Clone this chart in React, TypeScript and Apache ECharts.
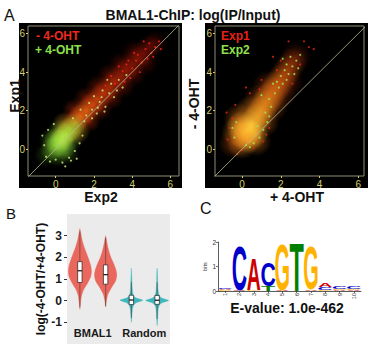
import { useEffect, useRef } from "react";
import * as echarts from "echarts";

const FONT = '"Liberation Sans", Arial, Helvetica, sans-serif';

// ---------- Panel A: BMAL1-ChIP log(IP/Input) ----------
const TITLE = "BMAL1-ChIP: log(IP/Input)";
const TREATMENTS = ["- 4-OHT", "+ 4-OHT"];
const EXPERIMENTS = ["Exp1", "Exp2"];
const SCATTER_TICKS = [0, 2, 4, 6];

// density cloud of -4-OHT peaks, [Exp2, Exp1, relative density]
const minusOhtCloud = [
  [0.4, 0.7, 0.8], [0.7, 1.0, 0.95], [1.0, 1.35, 1.0], [1.3, 1.7, 0.95],
  [1.6, 2.0, 0.85], [1.9, 2.3, 0.75], [2.2, 2.6, 0.65], [2.5, 2.9, 0.55],
  [2.8, 3.2, 0.48], [3.1, 3.5, 0.42], [3.4, 3.8, 0.36], [3.7, 4.1, 0.3],
  [4.0, 4.4, 0.25], [4.3, 4.7, 0.2], [4.6, 5.0, 0.16], [4.9, 5.3, 0.12],
  [5.2, 5.5, 0.08], [1.1, 0.9, 0.5], [0.5, 1.3, 0.5], [1.7, 1.5, 0.45],
  [1.0, 2.0, 0.4], [2.3, 2.1, 0.35], [1.6, 2.6, 0.35], [2.9, 2.7, 0.3],
  [2.2, 3.2, 0.28], [3.5, 3.3, 0.22], [2.8, 3.8, 0.22], [4.1, 3.9, 0.15],
  [3.4, 4.4, 0.15], [4.7, 4.5, 0.1], [4.1, 5.0, 0.1],
];
// density cloud of +4-OHT peaks
const plusOhtCloud = [
  [0.3, 0.45, 1.0], [0.1, 0.2, 0.9], [0.5, 0.75, 0.9], [0.0, 0.5, 0.7],
  [0.45, 0.1, 0.7], [0.75, 1.0, 0.7], [-0.2, 0.0, 0.55], [0.2, 0.9, 0.55],
  [0.8, 0.5, 0.5], [1.0, 1.25, 0.45], [-0.25, 0.45, 0.4], [0.1, -0.3, 0.4],
  [0.6, -0.2, 0.35], [1.2, 0.9, 0.3], [-0.5, -0.3, 0.25], [0.4, 1.3, 0.3],
];
// sparse individual peaks
const minusOhtPoints = [
  [3.5, 4.05], [3.8, 4.6], [4.0, 4.2], [4.3, 4.9], [4.5, 4.5], [4.7, 5.2],
  [4.9, 5.5], [5.0, 5.0], [5.2, 5.3], [4.1, 5.0], [3.7, 4.4], [4.4, 4.0],
  [3.3, 4.3], [4.8, 4.7], [5.4, 5.6], [2.9, 3.8], [3.1, 3.4], [4.6, 5.6],
  [3.9, 3.7], [5.1, 4.8], [5.5, 5.2], [4.2, 4.6], [3.6, 3.5], [2.6, 3.3],
];
const plusOhtPoints = [
  [-0.6, 0.2], [-0.5, -0.4], [-0.3, -0.65], [0.0, -0.55], [0.35, -0.7],
  [0.7, -0.45], [1.0, -0.1], [1.25, 0.3], [-0.7, 0.7], [-0.4, 1.0],
  [-0.1, 1.3], [1.4, 0.7], [0.8, -0.6], [1.1, -0.5], [0.5, -0.9],
  [1.5, 1.45], [1.9, 2.05], [2.15, 1.85], [2.3, 2.45], [2.0, 2.75],
  [2.6, 2.2], [2.8, 2.9], [2.45, 3.05], [3.05, 2.7], [1.75, 2.4],
  [3.2, 3.05], [2.9, 3.4], [3.5, 3.2], [1.6, 1.75], [2.2, 2.15],
  [3.7, 3.85], [2.55, 1.95], [1.3, 2.05], [2.7, 3.6], [1.9, 1.6],
  [3.3, 3.6], [0.9, 1.6], [2.4, 2.7],
];

// right plot: [+4-OHT, -4-OHT, relative density]
const exp1Cloud = [
  [0.3, 1.0, 1.0], [0.1, 0.75, 0.9], [0.5, 1.3, 0.95], [0.6, 0.85, 0.8],
  [-0.05, 1.2, 0.75], [0.3, 0.55, 0.75], [0.8, 1.65, 0.8], [1.0, 2.0, 0.7],
  [1.2, 2.35, 0.62], [1.4, 2.7, 0.55], [1.6, 3.0, 0.48], [1.8, 3.3, 0.42],
  [2.0, 3.6, 0.36], [2.2, 3.9, 0.3], [2.4, 4.2, 0.25], [2.6, 4.5, 0.2],
  [2.8, 4.8, 0.14], [-0.3, 0.9, 0.5], [0.0, 0.25, 0.5], [0.75, 0.4, 0.4],
  [-0.2, 1.6, 0.4], [0.4, 2.0, 0.45], [1.15, 1.4, 0.4], [1.6, 2.2, 0.3],
  [0.85, 2.6, 0.3], [2.0, 2.85, 0.22], [-0.45, 0.3, 0.3], [1.3, 3.3, 0.22],
  [2.4, 3.5, 0.15],
];
const exp1Points = [
  [3.2, 5.6], [3.45, 5.3], [3.7, 5.2], [2.4, 5.6], [1.6, 4.8], [-0.5, 1.6],
  [-0.75, 0.5], [-0.35, 2.3], [0.4, 2.9], [1.0, 3.6], [2.0, 4.6], [0.0, -0.05],
  [0.6, 0.05], [-0.65, 1.1], [1.25, 0.75], [2.6, 3.4], [0.2, 3.2], [1.8, 4.1],
  [3.0, 4.4], [-0.25, -0.25], [0.9, 3.1], [1.4, 1.1], [-0.8, 1.9], [1.1, 0.4],
];
const exp2Points = [
  [2.1, 4.7], [2.3, 4.4], [2.5, 4.8], [2.6, 4.3], [2.8, 4.6], [2.9, 4.2],
  [2.2, 4.1], [2.4, 3.9], [2.0, 3.8], [1.8, 3.5], [1.9, 3.2], [2.1, 3.4],
  [1.6, 3.4], [1.7, 2.9], [2.3, 3.6], [1.4, 2.6], [1.5, 2.2], [1.2, 1.9],
  [1.3, 1.4], [1.1, 1.0], [0.9, 0.6], [0.6, 0.3], [0.4, 0.1], [0.2, 0.2],
  [-0.5, 1.1], [-0.4, 0.6], [-0.3, 1.4], [0.8, 1.2], [3.0, 4.9], [2.7, 3.9],
  [1.0, 2.8], [1.4, 1.7],
];

// ---------- Panel B: violin plots ----------
const VIOLIN_GROUPS = ["BMAL1", "Random"];
const VIOLIN_Y_TICKS = [-1, 0, 1, 2, 3];
const VIOLIN_Y_TITLE = "log(-4-OHT/+4-OHT)";
// which group each violin belongs to
const violinGroupOf = [0, 0, 1, 1];
// density profiles: [log ratio, relative width]
const violinProfiles = [
  [[-0.4, 0], [-0.1, 0.06], [0.2, 0.13], [0.5, 0.32], [0.8, 0.66], [1.1, 0.93],
   [1.35, 1], [1.6, 0.94], [1.9, 0.77], [2.2, 0.56], [2.5, 0.35], [2.8, 0.19],
   [3.1, 0.08], [3.33, 0]],
  [[-0.3, 0], [0.0, 0.07], [0.3, 0.2], [0.6, 0.5], [0.9, 0.85], [1.15, 0.96],
   [1.4, 0.9], [1.7, 0.7], [2.0, 0.45], [2.3, 0.27], [2.6, 0.14], [2.85, 0.06],
   [3.0, 0]],
  [[-1.0, 0], [-0.7, 0.04], [-0.4, 0.09], [-0.2, 0.2], [-0.1, 0.4], [0.02, 0.98],
   [0.12, 0.42], [0.22, 0.2], [0.4, 0.1], [0.7, 0.06], [1.0, 0.04], [1.5, 0]],
  [[-1.15, 0], [-0.8, 0.04], [-0.4, 0.09], [-0.2, 0.2], [-0.1, 0.42], [0.01, 0.98],
   [0.11, 0.44], [0.22, 0.2], [0.4, 0.1], [0.8, 0.05], [1.2, 0.03], [1.5, 0]],
];
// boxplots: [q1, median, q3, lower whisker, upper whisker]
const violinBoxes = [
  [0.84, 1.38, 1.8, -0.3, 3.2],
  [0.76, 1.2, 1.65, -0.25, 2.9],
  [-0.18, 0.03, 0.25, -0.8, 0.85],
  [-0.17, 0.02, 0.24, -0.85, 0.85],
];
const VIOLIN_COLORS = ["#e9675c", "#3db6bc"];

// ---------- Panel C: motif logo ----------
const LOGO_POSITIONS = [1, 2, 3, 4, 5, 6, 7, 8, 9, 10];
const LOGO_BITS_TICKS = [0, 1, 2];
// letter stacks from bottom to top: [letter, bits]
const logoStacks: [string, number][][] = [
  [["G", 0.03], ["A", 0.04], ["C", 0.07]],
  [["A", 0.02], ["C", 1.93]],
  [["G", 0.05], ["A", 1.27]],
  [["T", 0.2], ["C", 1.0]],
  [["A", 0.02], ["G", 1.95]],
  [["T", 1.99]],
  [["A", 0.03], ["G", 1.86]],
  [["G", 0.05], ["C", 0.12], ["A", 0.15]],
  [["A", 0.04], ["G", 0.06], ["C", 0.12]],
  [["A", 0.03], ["G", 0.06], ["C", 0.12]],
];
const E_VALUE = "E-value: 1.0e-462";

const LETTERS = "ACGT";
const LETTER_COLORS = ["#cc0000", "#0000cc", "#ffb300", "#008000"];
const LETTER_INK_W = [0.7, 0.64, 0.68, 0.58];
const LETTER_CAP_H = [0.716, 0.74, 0.74, 0.716];

type RGB = [number, number, number];
const hex = (h: string): RGB => [
  parseInt(h.slice(1, 3), 16),
  parseInt(h.slice(3, 5), 16),
  parseInt(h.slice(5, 7), 16),
];
function ramp(stops: string[], t: number): RGB {
  const n = stops.length - 1;
  const p = Math.max(0, Math.min(1, t)) * n;
  const i = Math.min(n - 1, Math.floor(p));
  const f = p - i;
  const a = hex(stops[i]);
  const b = hex(stops[i + 1]);
  return [0, 1, 2].map((k) => Math.round(a[k] + (b[k] - a[k]) * f)) as RGB;
}
// soft radial glow whose colour and strength follow the density value
function glow(stops: string[], base: number, peak: number) {
  return (p: any) => {
    const d = p.data[2];
    const [r, g, b] = ramp(stops, d);
    const a = Math.min(1, base + peak * d);
    return {
      type: "radial",
      x: 0.5,
      y: 0.5,
      r: 0.5,
      colorStops: [
        { offset: 0, color: `rgba(${r},${g},${b},${a})` },
        { offset: 0.45, color: `rgba(${r},${g},${b},${a * 0.55})` },
        { offset: 1, color: `rgba(${r},${g},${b},0)` },
      ],
    };
  };
}

const TICK_YELLOW = "#d2cf6c";

function scatterAxis(gridIndex: number, min: number, max: number) {
  return {
    gridIndex,
    type: "value",
    min,
    max,
    axisLine: { show: false, onZero: false },
    splitLine: { show: false },
    axisTick: {
      show: true,
      length: 2,
      customValues: SCATTER_TICKS,
      lineStyle: { color: TICK_YELLOW, width: 1 },
    },
    axisLabel: {
      customValues: SCATTER_TICKS,
      color: TICK_YELLOW,
      fontSize: 10,
      margin: 3,
      fontFamily: FONT,
    },
  };
}

function text(
  str: string,
  x: number,
  y: number,
  size: number,
  opts: { bold?: boolean; color?: string; align?: string; rotate?: boolean } = {}
) {
  const align = opts.align || "center";
  return {
    type: "text",
    x,
    y,
    rotation: opts.rotate ? Math.PI / 2 : 0,
    style: {
      text: str,
      font: `${opts.bold === false ? "normal" : "bold"} ${size}px ${FONT}`,
      fill: opts.color || "#111",
      textAlign: align,
      align,
      textVerticalAlign: "middle",
      verticalAlign: "middle",
    },
  };
}

function diagonal(xi: number) {
  return {
    type: "line",
    xAxisIndex: xi,
    yAxisIndex: xi,
    data: [
      [-2, -2],
      [7, 7],
    ],
    symbol: "none",
    silent: true,
    clip: true,
    z: 5,
    lineStyle: { color: "#bdbb94", width: 0.8 },
  };
}

function cloud(xi: number, data: number[][], size: number, color: any) {
  return {
    type: "scatter",
    xAxisIndex: xi,
    yAxisIndex: xi,
    data,
    symbolSize: size,
    silent: true,
    itemStyle: { color, opacity: 1 },
  };
}

function dots(xi: number, data: number[][], color: string) {
  return {
    type: "scatter",
    xAxisIndex: xi,
    yAxisIndex: xi,
    data,
    symbolSize: 2.2,
    silent: true,
    z: 4,
    itemStyle: { color, opacity: 0.85 },
  };
}

export default function App() {
  const ref = useRef<HTMLDivElement>(null);

  useEffect(() => {
    if (!ref.current) return;
    const chart = echarts.init(ref.current, undefined, { renderer: "svg" });

    const logoData: number[][] = [];
    logoStacks.forEach((stack, i) => {
      let base = 0;
      stack.forEach(([ch, h]) => {
        logoData.push([LOGO_POSITIONS[i], base, base + h, LETTERS.indexOf(ch)]);
        base += h;
      });
    });

    const option: any = {
      animation: false,
      backgroundColor: "#ffffff",
      textStyle: { fontFamily: FONT },
      grid: [
        { left: 28, top: 26, width: 151, height: 150, show: true, backgroundColor: "transparent", borderColor: "#8e8d74", borderWidth: 1 },
        { left: 215, top: 26, width: 149, height: 150, show: true, backgroundColor: "transparent", borderColor: "#8e8d74", borderWidth: 1 },
        { left: 67, top: 214, width: 103, height: 135, show: true, backgroundColor: "#ebebeb", borderWidth: 0 },
        { left: 218, top: 242, width: 143, height: 49, show: false },
      ],
      xAxis: [
        scatterAxis(0, -1.45, 6.45),
        scatterAxis(1, -1.4, 6.3),
        {
          gridIndex: 2,
          type: "category",
          data: VIOLIN_GROUPS,
          axisLine: { show: false },
          axisTick: { show: false },
          axisLabel: { inside: true, interval: 0, margin: 6, fontSize: 11, fontWeight: "bold", color: "#1a1a1a", fontFamily: FONT },
        },
        {
          gridIndex: 3,
          type: "value",
          min: 0.5,
          max: 10.5,
          axisLine: { show: true, onZero: false, lineStyle: { color: "#333", width: 0.8 } },
          splitLine: { show: false },
          axisTick: { show: true, length: 2, customValues: LOGO_POSITIONS, lineStyle: { color: "#333", width: 0.7 } },
          axisLabel: { customValues: LOGO_POSITIONS, rotate: 90, fontSize: 5.5, margin: 2, color: "#333" },
        },
      ],
      yAxis: [
        scatterAxis(0, -1.4, 6.4),
        scatterAxis(1, -1.4, 6.4),
        {
          gridIndex: 2,
          type: "value",
          min: -2,
          max: 4,
          axisLine: { show: false },
          splitLine: { show: false },
          axisTick: { show: true, length: 3, customValues: VIOLIN_Y_TICKS, lineStyle: { color: "#333" } },
          axisLabel: { customValues: VIOLIN_Y_TICKS, fontSize: 12, fontWeight: "bold", color: "#1a1a1a", margin: 5, fontFamily: FONT },
          name: VIOLIN_Y_TITLE,
          nameLocation: "middle",
          nameGap: 17,
          nameTextStyle: { fontSize: 12, fontWeight: "bold", color: "#111", fontFamily: FONT },
        },
        {
          gridIndex: 3,
          type: "value",
          min: 0,
          max: 2,
          interval: 1,
          axisLine: { show: true, lineStyle: { color: "#333", width: 0.8 } },
          splitLine: { show: false },
          axisTick: { show: true, length: 2, lineStyle: { color: "#333", width: 0.7 } },
          axisLabel: { customValues: LOGO_BITS_TICKS, fontSize: 6.5, margin: 2, color: "#333" },
          name: "bits",
          nameLocation: "middle",
          nameGap: 7,
          nameTextStyle: { fontSize: 5.5, color: "#333" },
        },
      ],
      series: [
        // left scatter: Exp1 vs Exp2
        cloud(0, minusOhtCloud, 25, glow(["#c00c06", "#f0400c", "#ff8a1c"], 0.22, 0.6)),
        cloud(0, plusOhtCloud, 24, glow(["#2c9a14", "#8ee636", "#d4ff5a"], 0.12, 0.6)),
        dots(0, minusOhtPoints, "#e4261a"),
        dots(0, plusOhtPoints, "#c4e474"),
        diagonal(0),
        // right scatter: -4-OHT vs +4-OHT
        cloud(1, exp1Cloud, 30, glow(["#b8180a", "#ee6c12", "#ffb628", "#ffe04a"], 0.22, 0.7)),
        dots(1, exp1Points, "#d8261a"),
        dots(1, exp2Points, "#a6e050"),
        diagonal(1),
        // violins
        {
          type: "custom",
          xAxisIndex: 2,
          yAxisIndex: 2,
          silent: true,
          data: violinProfiles.map((_, k) => [violinGroupOf[k], k]),
          encode: { x: 0, y: 1 },
          renderItem: (_params: any, api: any) => {
            const g = api.value(0);
            const k = api.value(1);
            const band = api.size([1, 0])[0];
            const cx = api.coord([g, 0])[0] + (k % 2 === 0 ? -0.25 : 0.25) * band;
            const half = 0.225 * band;
            const y = (v: number) => api.coord([g, v])[1];
            const prof = violinProfiles[k];
            const right = prof.map(([v, w]) => [cx + w * half, y(v)]);
            const left = prof.slice().reverse().map(([v, w]) => [cx - w * half, y(v)]);
            const [q1, med, q3, lo, hi] = violinBoxes[k];
            const bw = 2.2;
            const color = VIOLIN_COLORS[g];
            return {
              type: "group",
              children: [
                { type: "polygon", shape: { points: [...right, ...left], smooth: 0.25 }, style: { fill: color, stroke: color, lineWidth: 0.4 } },
                { type: "line", shape: { x1: cx, y1: y(lo), x2: cx, y2: y(hi) }, style: { stroke: "#4a3a38", lineWidth: 0.6 } },
                { type: "rect", shape: { x: cx - bw, y: y(q3), width: 2 * bw, height: y(q1) - y(q3) }, style: { fill: "#ffffff", stroke: "#222", lineWidth: 0.7 } },
                { type: "line", shape: { x1: cx - bw, y1: y(med), x2: cx + bw, y2: y(med) }, style: { stroke: "#111", lineWidth: 1.2 } },
              ],
            };
          },
        },
        // sequence logo
        {
          type: "custom",
          xAxisIndex: 3,
          yAxisIndex: 3,
          silent: true,
          data: logoData,
          encode: { x: 0, y: 2 },
          renderItem: (_params: any, api: any) => {
            const pos = api.value(0);
            const b = api.value(1);
            const t = api.value(2);
            const li = api.value(3);
            const cx = api.coord([pos, b])[0];
            const yb = api.coord([pos, b])[1];
            const yt = api.coord([pos, t])[1];
            const h = yb - yt;
            if (h < 0.3) return null;
            const w = api.size([1, 0])[0] * 0.95;
            const fs = 100;
            const sy = h / (LETTER_CAP_H[li] * fs);
            const sx = w / (LETTER_INK_W[li] * fs);
            return {
              type: "text",
              x: cx,
              y: (yb + yt) / 2 + 0.012 * fs * sy,
              scaleX: sx,
              scaleY: sy,
              style: {
                text: LETTERS[li],
                x: 0,
                y: 0,
                fill: LETTER_COLORS[li],
                font: `bold ${fs}px ${FONT}`,
                align: "center",
                verticalAlign: "middle",
              },
            };
          },
        },
      ],
      graphic: {
        elements: [
          { type: "rect", z: -10, shape: { x: 19, y: 23, width: 163, height: 165 }, style: { fill: "#000" } },
          { type: "rect", z: -10, shape: { x: 205, y: 23, width: 163, height: 165 }, style: { fill: "#000" } },
          text("A", 4, 15, 16, { bold: false, align: "left" }),
          text("B", 6, 213, 15, { bold: false, align: "left" }),
          text("C", 200, 208, 16, { bold: false, align: "left" }),
          text(TITLE, 193, 15, 14),
          text(TREATMENTS[0], 36, 36, 12, { color: "#ee2a1e", align: "left" }),
          text(TREATMENTS[1], 35, 50, 12, { color: "#8ee04a", align: "left" }),
          text(EXPERIMENTS[0], 221, 36, 12, { color: "#e8201a", align: "left" }),
          text(EXPERIMENTS[1], 221, 50, 12, { color: "#90e04c", align: "left" }),
          text(EXPERIMENTS[0], 15, 96, 14, { rotate: true }),
          text(EXPERIMENTS[1], 101, 197, 14),
          text(TREATMENTS[0], 194, 104, 14, { rotate: true }),
          text(TREATMENTS[1], 297, 197, 14),
          text(E_VALUE, 287, 308, 14),
        ],
      },
    };

    chart.setOption(option);
    return () => chart.dispose();
  }, []);

  return (
    <div
      ref={ref}
      style={{ position: "fixed", left: 0, top: 0, width: 371, height: 344 }}
    />
  );
}
